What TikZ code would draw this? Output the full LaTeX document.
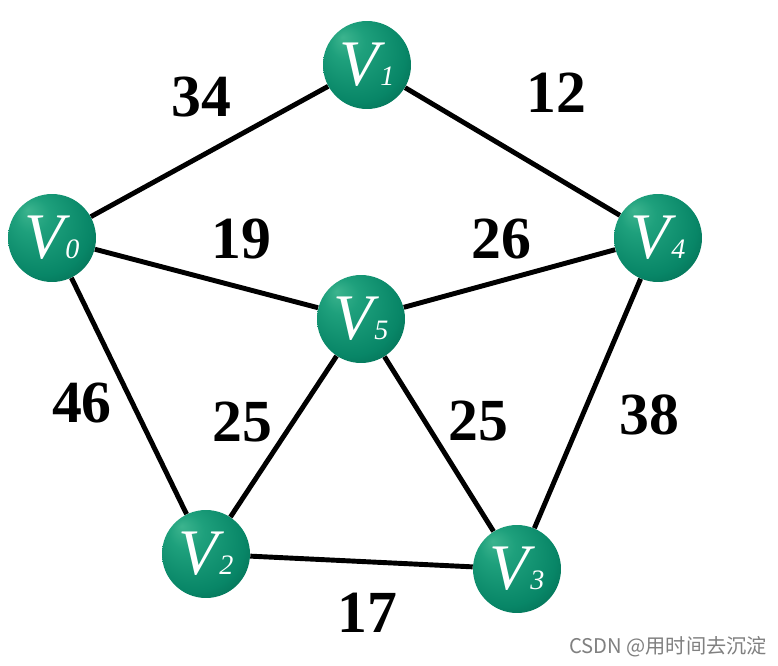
\documentclass[tikz,border=0pt]{standalone}
\usepackage{fontspec}
\setmainfont{Liberation Serif}
\newfontfamily\cjkfont{Noto Sans CJK SC}
\usetikzlibrary{shapes.geometric, arrows}
\definecolor{vertHigh}{RGB}{60,180,142}
\definecolor{vertLight}{RGB}{30,160,124}
\definecolor{vertMid}{RGB}{8,134,103}
\definecolor{vertDark}{RGB}{0,90,68}
\pgfdeclareradialshading{vertball}{\pgfpoint{-14bp}{16bp}}{color(0bp)=(vertHigh); color(10bp)=(vertLight); color(28bp)=(vertMid); color(44bp)=(vertDark); color(50bp)=(vertDark)}
\newcommand{\vname}[1]{V\kern0.02em{\fontsize{16}{16}\selectfont #1}}

\begin{document}
\begin{tikzpicture}[x=0.02cm, y=-0.02cm]
    \tikzstyle{vertex} = [circle, shading=vertball, minimum size=1.76cm, inner sep=0pt, text=white, font=\fontsize{37}{37}\selectfont\itshape]
    \tikzstyle{weight} = [font=\fontsize{34}{34}\selectfont\bfseries, inner sep=0pt]
    \tikzstyle{line} = [draw, line width=2.8pt]

    \fill [white] (0,0) rectangle (778,666);
    \useasboundingbox (0,0) rectangle (778,666);

    \node [vertex] (v1) at (367,65) {\vname{1}};
    \node [vertex] (v0) at (52,238) {\vname{0}};
    \node [vertex] (v4) at (658,238) {\vname{4}};
    \node [vertex] (v5) at (361,319) {\vname{5}};
    \node [vertex] (v2) at (206,554) {\vname{2}};
    \node [vertex] (v3) at (517,569) {\vname{3}};

    \path [line] (v0) -- (v1);
    \path [line] (v1) -- (v4);
    \path [line] (v0) -- (v5);
    \path [line] (v5) -- (v4);
    \path [line] (v0) -- (v2);
    \path [line] (v5) -- (v2);
    \path [line] (v5) -- (v3);
    \path [line] (v4) -- (v3);
    \path [line] (v2) -- (v3);

    \node [weight] (w01) at (201,97) {34};
    \node [weight] (w14) at (556,93) {12};
    \node [weight] (w05) at (241,239) {19};
    \node [weight] (w54) at (501,239) {26};
    \node [weight] (w02) at (82,403) {46};
    \node [weight] (w52) at (242,422) {25};
    \node [weight] (w53) at (478,421) {25};
    \node [weight] (w43) at (649,415) {38};
    \node [weight] (w23) at (367,613) {17};

    \node [text=black!50, font=\cjkfont\fontsize{11.5}{12}\selectfont, inner sep=0pt] (mark) at (668,647) {CSDN @用时间去沉淀};
\end{tikzpicture}
\end{document}
